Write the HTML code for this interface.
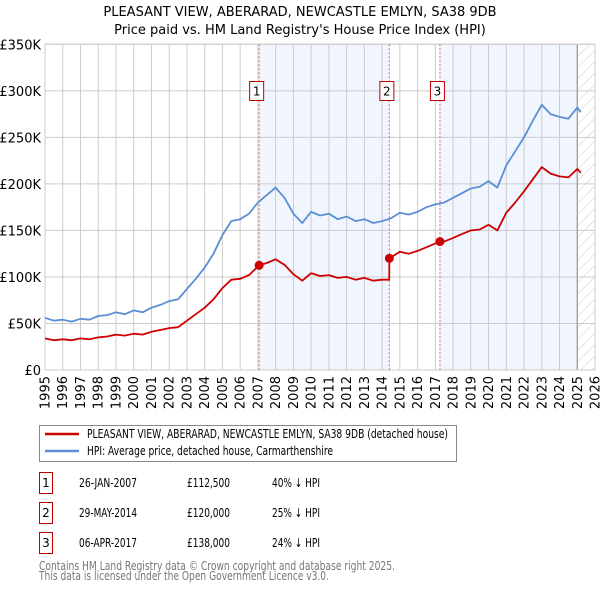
<!DOCTYPE html>
<html><head><meta charset="utf-8"><style>
body{margin:0;background:#fff;font-family:"Liberation Sans","DejaVu Sans",sans-serif;}
svg text{font-family:"DejaVu Sans","Liberation Sans",sans-serif;}
</style></head><body>
<svg id="c" width="600" height="590" xmlns="http://www.w3.org/2000/svg">
<defs><pattern id="hatch" width="8" height="8" patternUnits="userSpaceOnUse" patternTransform="rotate(45)"><line x1="0" y1="0" x2="0" y2="8" stroke="#ccc" stroke-width="1"/></pattern></defs>
<text x="300" y="16" text-anchor="middle" font-size="13" fill="#000">PLEASANT VIEW, ABERARAD, NEWCASTLE EMLYN, SA38 9DB</text>
<text x="300" y="34" text-anchor="middle" font-size="13" fill="#000">Price paid vs. HM Land Registry's House Price Index (HPI)</text>
<g id="plot"></g>
<g>
<rect x="39.5" y="425.5" width="417" height="36" fill="#fff" stroke="#888"/>
<line x1="45" y1="434" x2="79" y2="434" stroke="#cc0000" stroke-width="2.5"/>
<text x="87" y="438" font-size="12" textLength="361" lengthAdjust="spacingAndGlyphs">PLEASANT VIEW, ABERARAD, NEWCASTLE EMLYN, SA38 9DB (detached house)</text>
<line x1="45" y1="451" x2="79" y2="451" stroke="#5b8fd4" stroke-width="2.5"/>
<text x="87" y="455" font-size="12" textLength="246" lengthAdjust="spacingAndGlyphs">HPI: Average price, detached house, Carmarthenshire</text>
</g>
<g id="table" font-size="12"></g>
<text x="39" y="570" font-size="12" fill="#777" textLength="356" lengthAdjust="spacingAndGlyphs">Contains HM Land Registry data © Crown copyright and database right 2025.</text>
<text x="39" y="580" font-size="12" fill="#777" textLength="290" lengthAdjust="spacingAndGlyphs">This data is licensed under the Open Government Licence v3.0.</text>
</svg>
<script>
const yTicks=[0,50,100,150,200,250,300,350];
const yTickLabels=["£0","£50K","£100K","£150K","£200K","£250K","£300K","£350K"];
const xYears=[1995,1996,1997,1998,1999,2000,2001,2002,2003,2004,2005,2006,2007,2008,2009,2010,2011,2012,2013,2014,2015,2016,2017,2018,2019,2020,2021,2022,2023,2024,2025,2026];
const hpiYears=[1995,1995.5,1996,1996.5,1997,1997.5,1998,1998.5,1999,1999.5,2000,2000.5,2001,2001.5,2002,2002.5,2003,2003.5,2004,2004.5,2005,2005.5,2006,2006.5,2007,2007.5,2008,2008.5,2009,2009.5,2010,2010.5,2011,2011.5,2012,2012.5,2013,2013.5,2014,2014.5,2015,2015.5,2016,2016.5,2017,2017.5,2018,2018.5,2019,2019.5,2020,2020.5,2021,2021.5,2022,2022.5,2023,2023.5,2024,2024.5,2025,2025.2];
const hpiVals=[56,53,54,52,55,54,58,59,62,60,64,62,67,70,74,76,87,98,110,125,145,160,162,168,180,188,196,185,168,158,170,166,168,162,165,160,162,158,160,163,169,167,170,175,178,180,185,190,195,197,203,196,220,235,250,268,285,275,272,270,282,277];
const redYears=[1995,1995.5,1996,1996.5,1997,1997.5,1998,1998.5,1999,1999.5,2000,2000.5,2001,2001.5,2002,2002.5,2003,2003.5,2004,2004.5,2005,2005.5,2006,2006.5,2007.07,2007.5,2008,2008.5,2009,2009.5,2010,2010.5,2011,2011.5,2012,2012.5,2013,2013.5,2014,2014.4,2014.41,2015,2015.5,2016,2016.5,2017.26,2017.5,2018,2018.5,2019,2019.5,2020,2020.5,2021,2021.5,2022,2022.5,2023,2023.5,2024,2024.5,2025,2025.2];
const redVals=[34,32,33,32,34,33,35,36,38,37,39,38,41,43,45,46,53,60,67,76,88,97,98,102,112.5,115,119,113,103,96,104,101,102,99,100,97,99,96,97,97,120,127,125,128,132,138,138,142,146,150,151,156,150,169,180,192,205,218,211,208,207,216,212];
const saleYears=[2007.07,2014.41,2017.26];
const saleVals=[112.5,120,138];
const saleLabels=["1","2","3"];
const saleDates=["26-JAN-2007","29-MAY-2014","06-APR-2017"];
const salePrices=["£112,500","£120,000","£138,000"];
const saleHpi=["40% ↓ HPI","25% ↓ HPI","24% ↓ HPI"];

const NS="http://www.w3.org/2000/svg";
const L=45,R=595,T=44.3,B=370;
const X=y=>L+(y-1995)/(2026-1995)*(R-L);
const Y=v=>B-v/350*(B-T);
function mk(p,tag,at){const e=document.createElementNS(NS,tag);for(const k in at)e.setAttribute(k,at[k]);p.appendChild(e);return e;}
const g=document.getElementById('plot');
const s1=mk(g,'rect',{x:X(saleYears[0]),y:T,width:X(saleYears[1])-X(saleYears[0]),height:B-T,fill:'#f1f5fd'});


const s2=mk(g,'rect',{x:X(saleYears[2]),y:T,width:X(2025.0)-X(saleYears[2]),height:B-T,fill:'#f1f5fd'});


const hz=mk(g,'rect',{x:X(2025.0),y:T,width:R-X(2025.0),height:B-T,fill:'url(#hatch)'});


yTicks.forEach((v,i)=>{
 mk(g,'line',{x1:L,x2:R,y1:Y(v),y2:Y(v),stroke:'#ccc','stroke-width':1});
 const t=mk(g,'text',{x:L-4,y:Y(v)+5,'text-anchor':'end','font-size':13});
 t.textContent=yTickLabels[i];
 
 
});
xYears.forEach(yr=>{
 mk(g,'line',{x1:X(yr),x2:X(yr),y1:T,y2:B,stroke:'#ccc','stroke-width':1});
 const t=mk(g,'text',{x:0,y:0,'text-anchor':'end','font-size':13,transform:`translate(${X(yr)+4.5},376) rotate(-90)`});
 t.textContent=yr;
 
 
});
mk(g,'line',{x1:X(2025.0),x2:X(2025.0),y1:T,y2:B,stroke:'#999','stroke-width':1.2});
mk(g,'rect',{x:L,y:T,width:R-L,height:B-T,fill:'none',stroke:'#ccc'});
saleYears.forEach((yr,i)=>{
 const l=mk(g,'line',{x1:X(yr),x2:X(yr),y1:T,y2:B,stroke:'#e06060','stroke-width':1,'stroke-dasharray':'2,2'});
 
 
 const r=mk(g,'rect',{x:X(yr)-9.5,y:81.5,width:14,height:19,fill:'#fff',stroke:'#c00000'});
 
 
 const t=mk(g,'text',{x:X(yr)-2.5,y:95.5,'text-anchor':'middle','font-size':12});
 t.textContent=saleLabels[i];
});
function path(xs,vs,color,name){
 const d=xs.map((x,i)=>(i?'L':'M')+X(x).toFixed(1)+','+Y(vs[i]).toFixed(1)).join('');
 const p=mk(g,'path',{d,fill:'none',stroke:color,'stroke-width':1.8,'stroke-linejoin':'round'});
 
 
}
path(hpiYears,hpiVals,'#5b8fd4','hpi-line');
path(redYears,redVals,'#cc0000','property-price-line');
saleYears.forEach((yr,i)=>{
 const c=mk(g,'circle',{cx:X(yr),cy:Y(saleVals[i]),r:4.5,fill:'#cc0000'});
 
 
});
const tb=document.getElementById('table');
saleYears.forEach((yr,i)=>{
 const cy=483+i*30;
 const r=mk(tb,'rect',{x:39.5,y:cy-10.5,width:13,height:21,fill:'#fff',stroke:'#c00000'});
 
 
 const a=mk(tb,'text',{x:46,y:cy+4,'text-anchor':'middle'});a.textContent=saleLabels[i];
 const b=mk(tb,'text',{x:79,y:cy+4,textLength:58,lengthAdjust:'spacingAndGlyphs'});b.textContent=saleDates[i];
 
 
 const c=mk(tb,'text',{x:187,y:cy+4,textLength:43,lengthAdjust:'spacingAndGlyphs'});c.textContent=salePrices[i];
 
 
 const d=mk(tb,'text',{x:272,y:cy+4,textLength:48,lengthAdjust:'spacingAndGlyphs'});d.textContent=saleHpi[i];
 
 
});
</script>
</body></html>
